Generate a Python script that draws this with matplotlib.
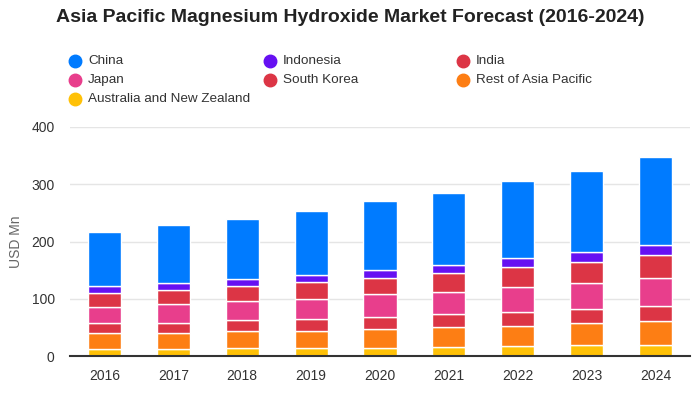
import matplotlib.pyplot as plt
from matplotlib.lines import Line2D
import numpy as np

plt.rcParams['font.family'] = ['Liberation Sans', 'DejaVu Sans']

years = ["2016", "2017", "2018", "2019", "2020", "2021", "2022", "2023", "2024"]

# stacked bottom -> top
anz = [13, 13, 13.5, 14.5, 14.5, 16, 18, 18.5, 20]
rest_ap = [26.5, 28, 30, 30, 33.5, 34, 35, 38.5, 41]
south_korea = [17.5, 17.5, 19, 20.5, 20, 22.5, 24.5, 24.5, 26]
japan = [29, 33, 33, 35, 39.5, 40, 42.5, 46, 49]
india = [24.5, 24.5, 27.5, 29.5, 29.5, 33, 35, 37.5, 40]
indonesia = [11, 12, 12, 12.5, 14, 14, 15.5, 16, 17.5]
china = [95, 100, 105, 112, 119, 126, 134.5, 143, 154]

series = [
    ("Australia and New Zealand", anz, "#ffc107"),
    ("Rest of Asia Pacific", rest_ap, "#fd7e14"),
    ("South Korea", south_korea, "#dc3545"),
    ("Japan", japan, "#e83e8c"),
    ("India", india, "#dc3545"),
    ("Indonesia", indonesia, "#6610f2"),
    ("China", china, "#007bff"),
]

fig = plt.figure(figsize=(7, 4), dpi=100)
ax = fig.add_axes([0.1, 0.11, 0.8857, 0.5725])

x = np.arange(len(years))
bottom = np.zeros(len(years))
for name, vals, col in series:
    ax.bar(x, vals, width=0.48, bottom=bottom, color=col,
           edgecolor="white", linewidth=1.0, zorder=3)
    bottom += np.array(vals)

ax.set_xlim(-0.5, len(years) - 0.5)
ax.set_ylim(0, 400)
ax.set_yticks([0, 100, 200, 300, 400])
ax.set_xticks(x)
ax.set_xticklabels(years)
ax.grid(axis="y", color="#e5e5e5", linewidth=1, zorder=0)
for s in ["top", "right", "left"]:
    ax.spines[s].set_visible(False)
ax.spines["bottom"].set_color("#333333")
ax.spines["bottom"].set_linewidth(1.5)
ax.spines["bottom"].set_zorder(4)
ax.tick_params(axis="both", length=0, labelsize=10, colors="#333333")
ax.tick_params(axis="x", pad=9)
ax.tick_params(axis="y", pad=11)
ax.set_ylabel("USD Mn", fontsize=10, color="#666666", labelpad=6)

fig.text(0.5, 0.955, "Asia Pacific Magnesium Hydroxide Market Forecast (2016-2024)",
         ha="center", va="center", fontsize=14, fontweight="bold", color="#222222")

# legend laid out in rows of three
legend_items = [
    ("China", "#007bff"), ("Indonesia", "#6610f2"), ("India", "#dc3545"),
    ("Japan", "#e83e8c"), ("South Korea", "#dc3545"), ("Rest of Asia Pacific", "#fd7e14"),
    ("Australia and New Zealand", "#ffc107"),
]
col_x = [75, 270, 463]
row_y = [61, 80, 99]
for i, (name, col) in enumerate(legend_items):
    px = col_x[i % 3]
    py = row_y[i // 3]
    fig.add_artist(Line2D([px / 700], [1 - py / 400], marker="o", markersize=9,
                          color=col, linestyle="none", transform=fig.transFigure))
    fig.text((px + 13) / 700, 1 - py / 400, name, ha="left", va="center",
             fontsize=9.7, color="#333333")

fig.savefig("out.png", dpi=100, facecolor="white")
